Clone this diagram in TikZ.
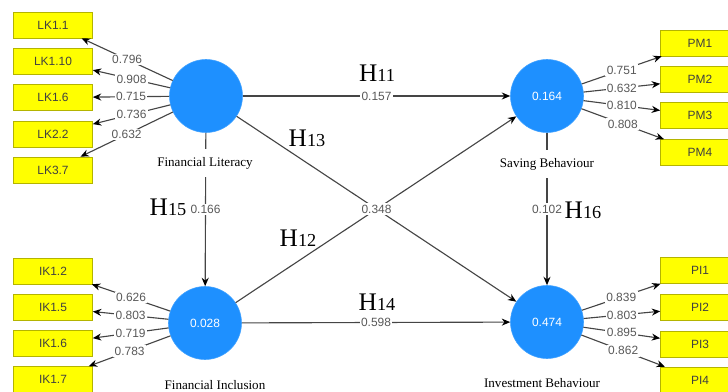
\documentclass[tikz,border=0pt]{standalone}
\usepackage{fontspec}
\setmainfont{Liberation Serif}
\setsansfont{Liberation Sans}
\usetikzlibrary{arrows.meta}
\usetikzlibrary{positioning}
\tikzset{>={Stealth[length=6pt,width=5pt,color=black]}}
\definecolor{lvblue}{HTML}{1E90FF}
\definecolor{indyellow}{HTML}{FFFF00}
\definecolor{indborder}{HTML}{B4B400}
\definecolor{linkgray}{HTML}{454545}
\tikzset{
  latent/.style={circle, fill=lvblue, draw=lvblue!85!white, minimum size=1.825cm,
    inner sep=0pt, text=white, font=\sffamily\fontsize{8.5}{8.5}\selectfont},
  indicator/.style={rectangle, fill=indyellow, draw=indborder, minimum width=1.975cm,
    minimum height=0.65cm, inner sep=0pt, text=black!75,
    font=\sffamily\fontsize{8.5}{8.5}\selectfont},
  link/.style={draw=linkgray, line width=0.8pt, ->},
  coef/.style={fill=white, inner sep=1pt, text=black!65,
    font=\sffamily\fontsize{8.5}{8.5}\selectfont},
  lvname/.style={fill=white, inner xsep=1pt, inner ysep=6pt,
    font=\fontsize{9.3}{10}\selectfont},
  hyplabel/.style={inner sep=0pt, font=\fontsize{18}{18}\selectfont}
}
\newcommand{\hypo}[1]{H{\fontsize{13}{13}\selectfont #1}}

\begin{document}
\begin{tikzpicture}[x=0.025cm, y=-0.025cm]
    \useasboundingbox (0,0) rectangle (728,392);
    % latent variables
    \node [latent] (fl) at (206,96) {};
    \node [latent] (sb) at (547,96) {0.164};
    \node [latent] (fi) at (205,323) {0.028};
    \node [latent] (ib) at (547,322) {0.474};
    % indicators of financial literacy
    \foreach \i/\txt/\y/\val in {1/LK1.1/25/0.796, 2/LK1.10/61/0.908, 3/LK1.6/97.5/0.715,
        4/LK2.2/134/0.736, 5/LK3.7/170/0.632} {
        \node [indicator] (lk\i) at (53,\y) {\txt};
        \draw [link] (fl) -- (lk\i) node [coef, midway] {\val};
    }
    % indicators of financial inclusion
    \foreach \i/\txt/\y/\val in {1/IK1.2/271/0.626, 2/IK1.5/307.5/0.803, 3/IK1.6/343.5/0.719,
        4/IK1.7/379.5/0.783} {
        \node [indicator] (ik\i) at (53,\y) {\txt};
        \draw [link] (fi) -- (ik\i) node [coef, midway] {\val};
    }
    % indicators of saving behaviour
    \foreach \i/\y/\val in {1/43/0.751, 2/79.5/0.632, 3/115.5/0.810, 4/152.5/0.808} {
        \node [indicator] (pm\i) at (700,\y) {PM\i};
        \draw [link] (sb) -- (pm\i) node [coef, midway] {\val};
    }
    % indicators of investment behaviour
    \foreach \i/\y/\val in {1/270.5/0.839, 2/307.5/0.803, 3/344/0.895, 4/380/0.862} {
        \node [indicator] (pi\i) at (700,\y) {PI\i};
        \draw [link] (ib) -- (pi\i) node [coef, midway] {\val};
    }
    % structural paths
    \draw [link] (fi) -- (sb);
    \draw [link] (fl) -- (ib) node [coef, midway] {0.348};
    \draw [link] (fl) -- (sb) node [coef, midway] {0.157};
    \draw [link] (fi) -- (ib) node [coef, midway] {0.598};
    \draw [link] (fl) -- (fi) node [coef, midway] {0.166};
    \draw [link] (sb) -- (ib) node [coef, midway] {0.102};
    % names of the latent variables
    \node [lvname] (flname) at (205,163) {Financial Literacy};
    \node [lvname] (sbname) at (547,164) {Saving Behaviour};
    \node [lvname, inner ysep=1pt] (finame) at (215,385) {Financial Inclusion};
    \node [lvname, inner ysep=1pt] (ibname) at (542,383) {Investment Behaviour};
    % hypotheses
    \node [hyplabel] (h11) at (377,73) {\hypo{11}};
    \node [hyplabel] (h13) at (307,138) {\hypo{13}};
    \node [hyplabel] (h15) at (168,207) {\hypo{15}};
    \node [hyplabel] (h12) at (298,238) {\hypo{12}};
    \node [hyplabel] (h14) at (377,302) {\hypo{14}};
    \node [hyplabel] (h16) at (583,210) {\hypo{16}};
\end{tikzpicture}
\end{document}
